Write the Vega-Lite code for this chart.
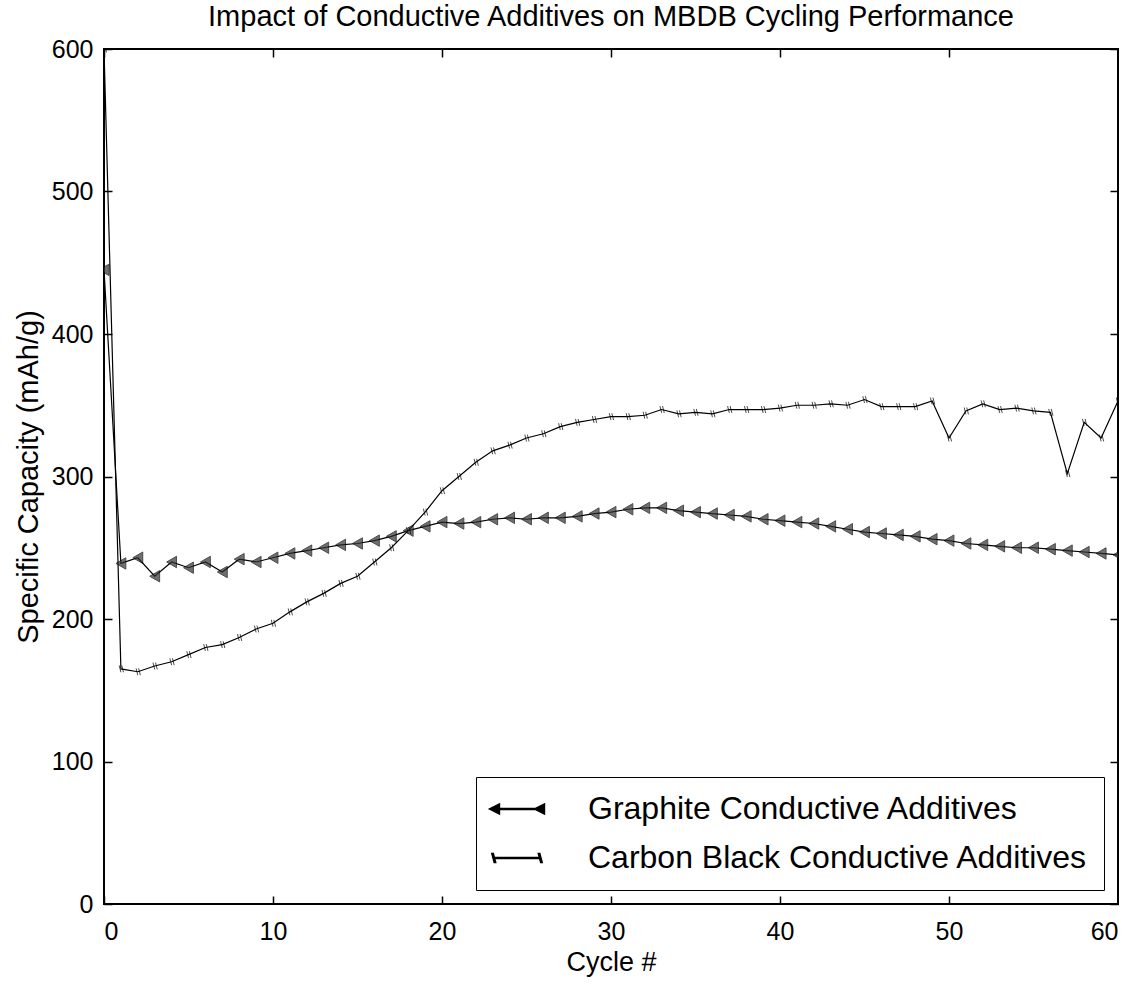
{
  "$schema": "https://vega.github.io/schema/vega-lite/v6.json",
  "width": 1014,
  "height": 855,
  "padding": {"left": 14, "top": 3, "right": 0, "bottom": 5},
  "background": "white",
  "title": {
    "text": "Impact of Conductive Additives on MBDB Cycling Performance",
    "font": "Liberation Sans",
    "fontSize": 29,
    "fontWeight": "normal",
    "color": "black",
    "offset": 5
  },
  "config": {
    "font": "Liberation Sans",
    "view": {"stroke": "black", "strokeWidth": 2},
    "axis": {
      "domain": false,
      "grid": false,
      "tickColor": "black",
      "tickWidth": 1.5,
      "tickSize": -8,
      "labelFont": "Liberation Sans",
      "labelFontSize": 25,
      "labelColor": "black",
      "titleFont": "Liberation Sans",
      "titleFontSize": 27,
      "titleFontWeight": "normal",
      "titleColor": "black"
    }
  },
  "data": {
    "values": [
      {"cycle": 0, "series": "Graphite Conductive Additives", "capacity": 445},
      {"cycle": 1, "series": "Graphite Conductive Additives", "capacity": 239},
      {"cycle": 2, "series": "Graphite Conductive Additives", "capacity": 243},
      {"cycle": 3, "series": "Graphite Conductive Additives", "capacity": 230},
      {"cycle": 4, "series": "Graphite Conductive Additives", "capacity": 240},
      {"cycle": 5, "series": "Graphite Conductive Additives", "capacity": 236},
      {"cycle": 6, "series": "Graphite Conductive Additives", "capacity": 240},
      {"cycle": 7, "series": "Graphite Conductive Additives", "capacity": 233},
      {"cycle": 8, "series": "Graphite Conductive Additives", "capacity": 242},
      {"cycle": 9, "series": "Graphite Conductive Additives", "capacity": 240},
      {"cycle": 10, "series": "Graphite Conductive Additives", "capacity": 243},
      {"cycle": 11, "series": "Graphite Conductive Additives", "capacity": 246},
      {"cycle": 12, "series": "Graphite Conductive Additives", "capacity": 248},
      {"cycle": 13, "series": "Graphite Conductive Additives", "capacity": 250},
      {"cycle": 14, "series": "Graphite Conductive Additives", "capacity": 252},
      {"cycle": 15, "series": "Graphite Conductive Additives", "capacity": 253},
      {"cycle": 16, "series": "Graphite Conductive Additives", "capacity": 255},
      {"cycle": 17, "series": "Graphite Conductive Additives", "capacity": 258},
      {"cycle": 18, "series": "Graphite Conductive Additives", "capacity": 262},
      {"cycle": 19, "series": "Graphite Conductive Additives", "capacity": 265},
      {"cycle": 20, "series": "Graphite Conductive Additives", "capacity": 268},
      {"cycle": 21, "series": "Graphite Conductive Additives", "capacity": 267},
      {"cycle": 22, "series": "Graphite Conductive Additives", "capacity": 268},
      {"cycle": 23, "series": "Graphite Conductive Additives", "capacity": 270},
      {"cycle": 24, "series": "Graphite Conductive Additives", "capacity": 271},
      {"cycle": 25, "series": "Graphite Conductive Additives", "capacity": 270},
      {"cycle": 26, "series": "Graphite Conductive Additives", "capacity": 271},
      {"cycle": 27, "series": "Graphite Conductive Additives", "capacity": 271},
      {"cycle": 28, "series": "Graphite Conductive Additives", "capacity": 272},
      {"cycle": 29, "series": "Graphite Conductive Additives", "capacity": 274},
      {"cycle": 30, "series": "Graphite Conductive Additives", "capacity": 275},
      {"cycle": 31, "series": "Graphite Conductive Additives", "capacity": 277},
      {"cycle": 32, "series": "Graphite Conductive Additives", "capacity": 278},
      {"cycle": 33, "series": "Graphite Conductive Additives", "capacity": 278},
      {"cycle": 34, "series": "Graphite Conductive Additives", "capacity": 276},
      {"cycle": 35, "series": "Graphite Conductive Additives", "capacity": 275},
      {"cycle": 36, "series": "Graphite Conductive Additives", "capacity": 274},
      {"cycle": 37, "series": "Graphite Conductive Additives", "capacity": 273},
      {"cycle": 38, "series": "Graphite Conductive Additives", "capacity": 272},
      {"cycle": 39, "series": "Graphite Conductive Additives", "capacity": 270},
      {"cycle": 40, "series": "Graphite Conductive Additives", "capacity": 269},
      {"cycle": 41, "series": "Graphite Conductive Additives", "capacity": 268},
      {"cycle": 42, "series": "Graphite Conductive Additives", "capacity": 267},
      {"cycle": 43, "series": "Graphite Conductive Additives", "capacity": 265},
      {"cycle": 44, "series": "Graphite Conductive Additives", "capacity": 263},
      {"cycle": 45, "series": "Graphite Conductive Additives", "capacity": 261},
      {"cycle": 46, "series": "Graphite Conductive Additives", "capacity": 260},
      {"cycle": 47, "series": "Graphite Conductive Additives", "capacity": 259},
      {"cycle": 48, "series": "Graphite Conductive Additives", "capacity": 258},
      {"cycle": 49, "series": "Graphite Conductive Additives", "capacity": 256},
      {"cycle": 50, "series": "Graphite Conductive Additives", "capacity": 255},
      {"cycle": 51, "series": "Graphite Conductive Additives", "capacity": 253},
      {"cycle": 52, "series": "Graphite Conductive Additives", "capacity": 252},
      {"cycle": 53, "series": "Graphite Conductive Additives", "capacity": 251},
      {"cycle": 54, "series": "Graphite Conductive Additives", "capacity": 250},
      {"cycle": 55, "series": "Graphite Conductive Additives", "capacity": 250},
      {"cycle": 56, "series": "Graphite Conductive Additives", "capacity": 249},
      {"cycle": 57, "series": "Graphite Conductive Additives", "capacity": 248},
      {"cycle": 58, "series": "Graphite Conductive Additives", "capacity": 247},
      {"cycle": 59, "series": "Graphite Conductive Additives", "capacity": 246},
      {"cycle": 60, "series": "Graphite Conductive Additives", "capacity": 245},
      {"cycle": 0, "series": "Carbon Black Conductive Additives", "capacity": 600},
      {"cycle": 1, "series": "Carbon Black Conductive Additives", "capacity": 165},
      {"cycle": 2, "series": "Carbon Black Conductive Additives", "capacity": 163},
      {"cycle": 3, "series": "Carbon Black Conductive Additives", "capacity": 167},
      {"cycle": 4, "series": "Carbon Black Conductive Additives", "capacity": 170},
      {"cycle": 5, "series": "Carbon Black Conductive Additives", "capacity": 175},
      {"cycle": 6, "series": "Carbon Black Conductive Additives", "capacity": 180},
      {"cycle": 7, "series": "Carbon Black Conductive Additives", "capacity": 182},
      {"cycle": 8, "series": "Carbon Black Conductive Additives", "capacity": 187},
      {"cycle": 9, "series": "Carbon Black Conductive Additives", "capacity": 193},
      {"cycle": 10, "series": "Carbon Black Conductive Additives", "capacity": 197},
      {"cycle": 11, "series": "Carbon Black Conductive Additives", "capacity": 205},
      {"cycle": 12, "series": "Carbon Black Conductive Additives", "capacity": 212},
      {"cycle": 13, "series": "Carbon Black Conductive Additives", "capacity": 218},
      {"cycle": 14, "series": "Carbon Black Conductive Additives", "capacity": 225},
      {"cycle": 15, "series": "Carbon Black Conductive Additives", "capacity": 230},
      {"cycle": 16, "series": "Carbon Black Conductive Additives", "capacity": 240},
      {"cycle": 17, "series": "Carbon Black Conductive Additives", "capacity": 250},
      {"cycle": 18, "series": "Carbon Black Conductive Additives", "capacity": 262},
      {"cycle": 19, "series": "Carbon Black Conductive Additives", "capacity": 275},
      {"cycle": 20, "series": "Carbon Black Conductive Additives", "capacity": 290},
      {"cycle": 21, "series": "Carbon Black Conductive Additives", "capacity": 300},
      {"cycle": 22, "series": "Carbon Black Conductive Additives", "capacity": 310},
      {"cycle": 23, "series": "Carbon Black Conductive Additives", "capacity": 318},
      {"cycle": 24, "series": "Carbon Black Conductive Additives", "capacity": 322},
      {"cycle": 25, "series": "Carbon Black Conductive Additives", "capacity": 327},
      {"cycle": 26, "series": "Carbon Black Conductive Additives", "capacity": 330},
      {"cycle": 27, "series": "Carbon Black Conductive Additives", "capacity": 335},
      {"cycle": 28, "series": "Carbon Black Conductive Additives", "capacity": 338},
      {"cycle": 29, "series": "Carbon Black Conductive Additives", "capacity": 340},
      {"cycle": 30, "series": "Carbon Black Conductive Additives", "capacity": 342},
      {"cycle": 31, "series": "Carbon Black Conductive Additives", "capacity": 342},
      {"cycle": 32, "series": "Carbon Black Conductive Additives", "capacity": 343},
      {"cycle": 33, "series": "Carbon Black Conductive Additives", "capacity": 347},
      {"cycle": 34, "series": "Carbon Black Conductive Additives", "capacity": 344},
      {"cycle": 35, "series": "Carbon Black Conductive Additives", "capacity": 345},
      {"cycle": 36, "series": "Carbon Black Conductive Additives", "capacity": 344},
      {"cycle": 37, "series": "Carbon Black Conductive Additives", "capacity": 347},
      {"cycle": 38, "series": "Carbon Black Conductive Additives", "capacity": 347},
      {"cycle": 39, "series": "Carbon Black Conductive Additives", "capacity": 347},
      {"cycle": 40, "series": "Carbon Black Conductive Additives", "capacity": 348},
      {"cycle": 41, "series": "Carbon Black Conductive Additives", "capacity": 350},
      {"cycle": 42, "series": "Carbon Black Conductive Additives", "capacity": 350},
      {"cycle": 43, "series": "Carbon Black Conductive Additives", "capacity": 351},
      {"cycle": 44, "series": "Carbon Black Conductive Additives", "capacity": 350},
      {"cycle": 45, "series": "Carbon Black Conductive Additives", "capacity": 354},
      {"cycle": 46, "series": "Carbon Black Conductive Additives", "capacity": 349},
      {"cycle": 47, "series": "Carbon Black Conductive Additives", "capacity": 349},
      {"cycle": 48, "series": "Carbon Black Conductive Additives", "capacity": 349},
      {"cycle": 49, "series": "Carbon Black Conductive Additives", "capacity": 353},
      {"cycle": 50, "series": "Carbon Black Conductive Additives", "capacity": 327},
      {"cycle": 51, "series": "Carbon Black Conductive Additives", "capacity": 346},
      {"cycle": 52, "series": "Carbon Black Conductive Additives", "capacity": 351},
      {"cycle": 53, "series": "Carbon Black Conductive Additives", "capacity": 347},
      {"cycle": 54, "series": "Carbon Black Conductive Additives", "capacity": 348},
      {"cycle": 55, "series": "Carbon Black Conductive Additives", "capacity": 346},
      {"cycle": 56, "series": "Carbon Black Conductive Additives", "capacity": 345},
      {"cycle": 57, "series": "Carbon Black Conductive Additives", "capacity": 302},
      {"cycle": 58, "series": "Carbon Black Conductive Additives", "capacity": 338},
      {"cycle": 59, "series": "Carbon Black Conductive Additives", "capacity": 327},
      {"cycle": 60, "series": "Carbon Black Conductive Additives", "capacity": 353}
    ]
  },
  "layer": [
    {
      "mark": {"type": "line", "color": "black", "strokeWidth": 1.2, "clip": true},
      "encoding": {
        "x": {
          "field": "cycle", "type": "quantitative",
          "scale": {"domain": [0, 60], "nice": false, "zero": false},
          "axis": {"values": [0, 10, 20, 30, 40, 50, 60], "title": "Cycle #", "labelPadding": 23, "titlePadding": 5}
        },
        "y": {
          "field": "capacity", "type": "quantitative",
          "scale": {"domain": [0, 600], "nice": false},
          "axis": {"values": [0, 100, 200, 300, 400, 500, 600], "title": "Specific Capacity (mAh/g)", "titleFontSize": 29, "labelPadding": 19, "titlePadding": 8}
        },
        "detail": {"field": "series"}
      }
    },
    {
      "transform": [{"filter": "datum.series === 'Graphite Conductive Additives'"}],
      "mark": {"type": "point", "shape": "triangle-left", "filled": true, "size": 130, "strokeWidth": 1, "stroke": "black", "fill": "#333333", "clip": true},
      "encoding": {
        "x": {
          "field": "cycle", "type": "quantitative",
          "axis": {"orient": "top", "values": [0, 10, 20, 30, 40, 50, 60], "labels": false, "title": null}
        },
        "y": {
          "field": "capacity", "type": "quantitative",
          "axis": {"orient": "right", "values": [0, 100, 200, 300, 400, 500, 600], "labels": false, "title": null}
        }
      }
    },
    {
      "transform": [{"filter": "datum.series === 'Carbon Black Conductive Additives'"}],
      "mark": {"type": "point", "shape": "M-0.3,-0.6L0,0.6M0.15,-0.6L0.45,0.6", "filled": false, "size": 130, "strokeWidth": 1, "color": "black", "clip": true},
      "encoding": {
        "x": {"field": "cycle", "type": "quantitative", "axis": null},
        "y": {"field": "capacity", "type": "quantitative", "axis": null}
      }
    },
    {
      "transform": [{"filter": "datum.cycle < 0"}],
      "mark": {"type": "point", "filled": true, "fill": "black", "stroke": "black", "size": 900, "strokeWidth": 1},
      "encoding": {
        "x": {"field": "cycle", "type": "quantitative", "axis": null},
        "y": {"field": "capacity", "type": "quantitative", "axis": null},
        "shape": {
          "field": "series", "type": "nominal",
          "scale": {
            "domain": ["Graphite Conductive Additives", "Carbon Black Conductive Additives"],
            "range": [
              "M-1.5,-0.04L1.5,-0.04L1.5,0.04L-1.5,0.04ZM-1.83,0L-1.17,-0.33L-1.17,0.33ZM1.17,0L1.83,-0.33L1.83,0.33Z",
              "M-1.5,-0.04L1.5,-0.04L1.5,0.04L-1.5,0.04ZM-1.68,-0.3L-1.58,-0.3L-1.42,0.3L-1.52,0.3ZM1.42,-0.3L1.52,-0.3L1.68,0.3L1.58,0.3Z"
            ]
          },
          "legend": {
            "title": null,
            "orient": "bottom-right",
            "offset": 14,
            "padding": 16,
            "strokeColor": "black",
            "fillColor": "white",
            "labelFont": "Liberation Sans",
            "labelFontSize": 32,
            "labelColor": "black",
            "labelLimit": 0,
            "labelOffset": 55,
            "rowPadding": 17,
            "symbolSize": 900,
            "symbolOffset": 9,
            "symbolFillColor": "black",
            "symbolOpacity": 1
          }
        }
      }
    }
  ],
  "resolve": {"axis": {"x": "independent", "y": "independent"}}
}
